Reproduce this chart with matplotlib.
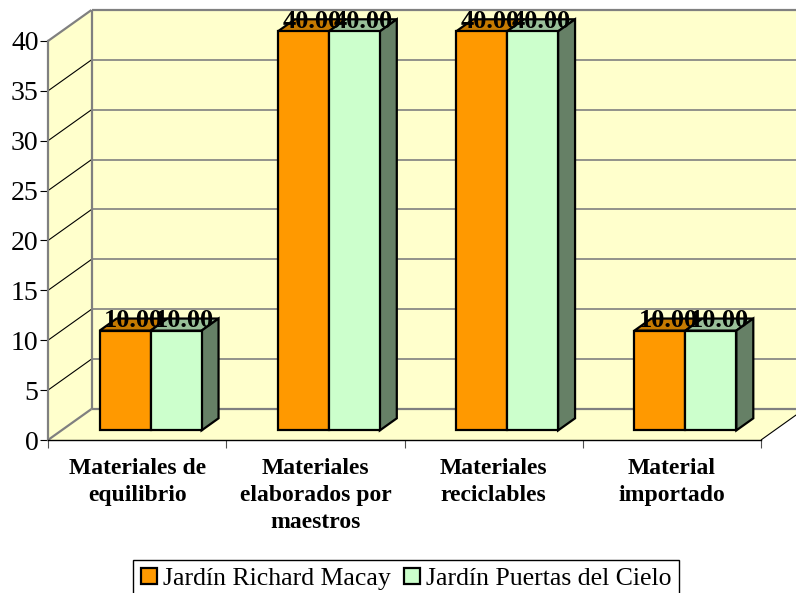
import matplotlib
matplotlib.use('Agg')
import matplotlib.pyplot as plt
from matplotlib.patches import Polygon, Patch

plt.rcParams['font.family'] = ['Liberation Serif', 'DejaVu Serif']

categories = ['Materiales de\nequilibrio', 'Materiales\nelaborados por\nmaestros',
              'Materiales\nreciclables', 'Material\nimportado']
richard = [10, 40, 40, 10]
puertas = [10, 40, 40, 10]
names = ['Jardín Richard Macay', 'Jardín Puertas del Cielo']
yticks = [0, 5, 10, 15, 20, 25, 30, 35, 40]

wall = '#FFFFCC'
grey = '#808080'
orange = '#FF9900'
orange_top = '#C67A00'
green = '#CCFFCC'
green_top = '#99BF99'
green_side = '#668066'

W, H = 796, 593
fig = plt.figure(figsize=(W / 100, H / 100), dpi=100)
ax = fig.add_axes([48 / W, 1 - 440 / H, (761 - 48) / W, (440 - 41) / H])
ax.set_xlim(0, 4)
ax.set_ylim(0, 40)
ax.patch.set_visible(False)

# depth offset of the back wall, in data units
DX = 43.5 / (713 / 4)
DY = 31 / (399 / 40)


def p(x, y, d=0.0):
    return (x + d * DX, y + d * DY)


def poly(pts, fc, ec='none', lw=0, z=1):
    ax.add_patch(Polygon(pts, closed=True, facecolor=fc, edgecolor=ec, linewidth=lw,
                         zorder=z, clip_on=False, joinstyle='miter'))


def seg(a, b, color, lw, z=2):
    ax.plot([a[0], b[0]], [a[1], b[1]], color=color, lw=lw, zorder=z, clip_on=False,
            solid_capstyle='butt')


# walls and floor
poly([p(0, 0), p(0, 0, 1), p(0, 40, 1), p(0, 40)], wall)
poly([p(0, 0, 1), p(4, 0, 1), p(4, 40, 1), p(0, 40, 1)], wall)
poly([p(0, 0), p(4, 0), p(4, 0, 1), p(0, 0, 1)], wall)

for v in yticks:
    if v > 0:
        seg(p(0, v), p(0, v, 1), 'black' if v < 40 else grey, 0.8 if v < 40 else 1.6)
    seg(p(0, v, 1), p(4, v, 1), grey, 1.6 if v in (0, 40) else 1.2)
seg(p(0, 0), p(0, 0, 1), grey, 1.6)
seg(p(0, 0, 1), p(0, 40, 1), grey, 1.6)
seg(p(4, 0), p(4, 0, 1), 'black', 0.8)

# bars
bw = 0.286
d0, d1 = 0.31, 0.70
for i in range(len(categories)):
    for k, (vals, front, top) in enumerate([(richard, orange, orange_top), (puertas, green, green_top)]):
        v = vals[i]
        x0 = i + 0.5 - bw + k * bw
        x1 = x0 + bw
        poly([p(x0, v, d0), p(x1, v, d0), p(x1, v, d1), p(x0, v, d1)], top, 'black', 1.6, 3 + k)
        if k == 1:
            poly([p(x1, 0, d0), p(x1, 0, d1), p(x1, v, d1), p(x1, v, d0)], green_side, 'black', 1.6, 3 + k)
        poly([p(x0, 0, d0), p(x1, 0, d0), p(x1, v, d0), p(x0, v, d0)], front, 'black', 1.6, 3 + k)
        ax.text((x0 + x1) / 2 + 0.125, v + 1.3, '%.2f' % v, ha='center', va='baseline', fontsize=19,
                fontweight='bold', color='black', zorder=10)

# axes
for s in ['top', 'right']:
    ax.spines[s].set_visible(False)
ax.spines['left'].set_color(grey)
ax.spines['left'].set_linewidth(1.6)
ax.spines['bottom'].set_color('black')
ax.spines['bottom'].set_linewidth(1.0)
ax.spines['left'].set_zorder(2)
ax.set_yticks(yticks)
ax.set_xticks(range(5))
ax.set_xticklabels([])
ax.tick_params(axis='y', length=6, width=0.8, color='black', labelsize=20, pad=0.8)
ax.tick_params(axis='x', length=6, width=0.8, color='#505050')

for i, c in enumerate(categories):
    ax.annotate(c, xy=(i + 0.5, 0), xytext=(0, -18), textcoords='offset pixels', ha='center', va='top',
                fontsize=17, fontweight='bold', linespacing=1.38, annotation_clip=False)

handles = [Patch(facecolor=orange, edgecolor='black', linewidth=1.6),
           Patch(facecolor=green, edgecolor='black', linewidth=1.6)]
fig.legend(handles, names, loc='upper left', bbox_to_anchor=(133 / W, 1 - 560 / H), ncol=2, fontsize=18.5,
           fancybox=False, framealpha=1, edgecolor='black', handlelength=0.62, handleheight=0.62,
           handletextpad=0.25, columnspacing=0.5, borderpad=0.3, borderaxespad=0)

fig.savefig('out.png', dpi=100)
